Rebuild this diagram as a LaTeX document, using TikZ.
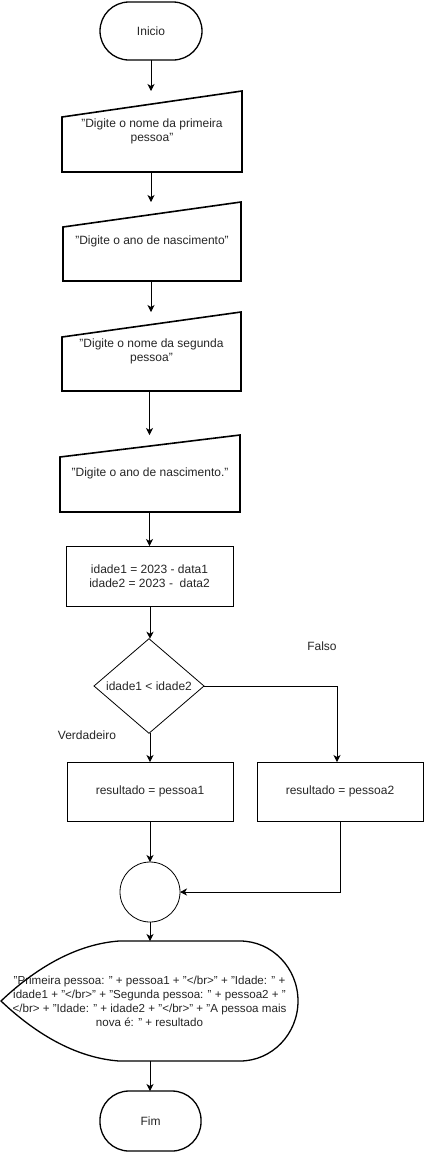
\documentclass[tikz,border=0pt]{standalone}
\usepackage{fontspec}
\setmainfont{Liberation Sans}
\usetikzlibrary{arrows.meta,shapes.geometric,calc}
\newcommand{\dq}{{\char34}}
\begin{document}
\begin{tikzpicture}[x=1pt,y=-1pt,
  font=\fontsize{12}{14}\selectfont,
  base/.style={inner sep=0pt, outer sep=0pt, align=center, text=black!85},
  term/.style={base, draw, line width=1.3pt, rounded corners=29pt},
  bbox/.style={base},
  inshape/.style={line width=1.6pt, line join=miter},
  proc/.style={base, draw, line width=0.9pt},
  dec/.style={base, draw, diamond, line width=0.8pt},
  conn/.style={base, draw, circle, line width=0.8pt},
  lbl/.style={base},
  arr/.style={line width=0.9pt, -{Stealth[length=7pt,width=7pt,inset=2pt]}},
  ln/.style={line width=0.9pt}
]
\useasboundingbox (0,0) rectangle (424,1152);
\fill[white] (0,0) rectangle (424,1152);

% start
\node[term, minimum width=102pt, minimum height=58pt] (ini) at (151,31) {Inicio};

% manual inputs (bounding nodes + trapezoid outlines)
\node[bbox, minimum width=180pt, minimum height=81pt] (in1) at (152,131.5) {\dq Digite o nome da primeira\\pessoa\dq};
\draw[inshape] (in1.south west) -- ($(in1.north west)+(0,26)$) -- (in1.north east) -- (in1.south east) -- cycle;

\node[bbox, minimum width=178pt, minimum height=79pt] (in2) at (152,241.5) {\dq Digite o ano de nascimento\dq};
\draw[inshape] (in2.south west) -- ($(in2.north west)+(0,25)$) -- (in2.north east) -- (in2.south east) -- cycle;

\node[bbox, minimum width=179pt, minimum height=79pt] (in3) at (151.5,351.5) {\dq Digite o nome da segunda\\pessoa\dq};
\draw[inshape] (in3.south west) -- ($(in3.north west)+(0,25)$) -- (in3.north east) -- (in3.south east) -- cycle;

\node[bbox, minimum width=180pt, minimum height=77pt] (in4) at (150,473.5) {\dq Digite o ano de nascimento.\dq};
\draw[inshape] (in4.south west) -- ($(in4.north west)+(0,22)$) -- (in4.north east) -- (in4.south east) -- cycle;

% process
\node[proc, minimum width=167pt, minimum height=60pt] (pr) at (149.5,576) {idade1 = 2023 - data1\\idade2 = 2023 -\ \ data2};

% decision
\node[dec, minimum width=110pt, minimum height=90pt] (dia) at (149,686) {idade1 < idade2};
\node[lbl] (falso) at (322,646) {Falso};
\node[lbl] (verd) at (87,735) {Verdadeiro};

% results
\node[proc, minimum width=166pt, minimum height=59pt] (r1) at (150,791.5) {resultado = pessoa1};
\node[proc, minimum width=166pt, minimum height=59pt] (r2) at (340,791.5) {resultado = pessoa2};

% connector
\node[conn, minimum size=60pt] (cc) at (150,892) {};

% display
\node[bbox, minimum width=297pt, minimum height=120pt, font=\fontsize{11.6}{14}\selectfont] (dp) at (149.5,1001) {\dq Primeira pessoa: \dq{} + pessoa1 + \dq</br>\dq{} + \dq Idade: \dq{} +\\idade1 + \dq</br>\dq{} + \dq Segunda pessoa: \dq{} + pessoa2 + \dq\\</br> + \dq Idade: \dq{} + idade2 + \dq</br>\dq{} + \dq A pessoa mais\\nova é: \dq{} + resultado};
\draw[line width=1.3pt] (dp.west) .. controls ($(dp.west)+(38,-36)$) and ($(dp.north west)+(78,3)$) .. ($(dp.north west)+(118,0)$)
  -- ($(dp.north east)+(-58,0)$)
  .. controls ($(dp.north east)+(-26,0)$) and ($(dp.east)+(0,-33)$) .. (dp.east)
  .. controls ($(dp.east)+(0,33)$) and ($(dp.south east)+(-26,0)$) .. ($(dp.south east)+(-58,0)$)
  -- ($(dp.south west)+(118,0)$)
  .. controls ($(dp.south west)+(78,-3)$) and ($(dp.west)+(38,36)$) .. (dp.west) -- cycle;

% end
\node[term, minimum width=101pt, minimum height=60pt] (fim) at (150.5,1121) {Fim};

% connectors
\coordinate (fk) at (337,686);
\draw[arr] (ini.south) -- (ini.south |- in1.north);
\draw[arr] (in1.south -| ini.south) -- (ini.south |- in2.north);
\draw[arr] (in2.south -| ini.south) -- (ini.south |- in3.north);
\draw[arr] (in3.south -| pr.north) -- (pr.north |- in4.north);
\draw[arr] (in4.south -| pr.north) -- (pr.north);
\draw[arr] (pr.south -| r1.north) -- (r1.north |- dia.north);
\draw[ln] (dia.east) -- (fk);
\draw[arr] (fk) -- (fk |- r2.north);
\draw[arr] (dia.south -| r1.north) -- (r1.north);
\draw[arr] (r1.south) -- (cc.north);
\draw[arr] (r2.south) |- (cc.east);
\draw[arr] (cc.south) -- (cc.south |- dp.north);
\draw[arr] (dp.south -| cc.south) -- (cc.south |- fim.north);
\end{tikzpicture}
\end{document}
